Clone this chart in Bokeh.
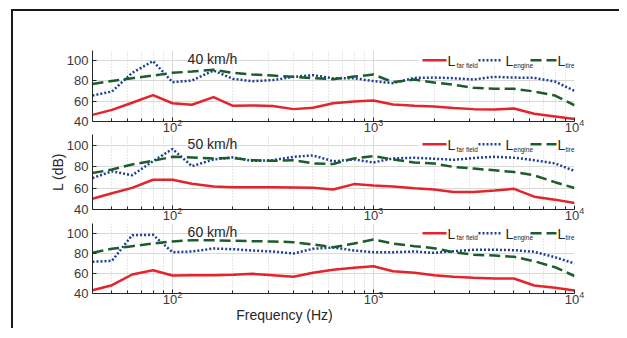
from bokeh.plotting import figure
from bokeh.layouts import column
from bokeh.models import FixedTicker, Label
from bokeh.embed import file_html
from bokeh.resources import INLINE

# ---------------- data (1/3-octave bands) ----------------
freqs = [40, 50, 63, 80, 100, 125, 160, 200, 250, 315, 400, 500, 630, 800,
         1000, 1250, 1600, 2000, 2500, 3150, 4000, 5000, 6300, 8000, 10000]

far40 = [46.5, 51.5, 58.5, 66.0, 58.0, 56.5, 64.0, 55.5, 55.8, 55.3, 52.2, 53.5, 58.0,
         59.7, 60.7, 56.8, 55.5, 54.8, 53.2, 52.2, 51.8, 52.8, 47.6, 45.0, 42.4]
eng40 = [65.6, 69.6, 88.0, 99.5, 78.8, 80.4, 90.3, 82.0, 79.8, 80.8, 84.0, 85.7, 82.5,
         82.7, 79.8, 77.8, 83.0, 83.3, 82.7, 81.4, 84.0, 83.3, 83.0, 79.4, 70.2]
tire40 = [77.0, 80.0, 82.7, 85.3, 88.0, 89.3, 91.0, 88.0, 86.3, 85.3, 84.0, 82.7, 81.7,
          84.3, 86.3, 78.8, 81.4, 78.4, 76.2, 73.2, 72.2, 72.2, 69.6, 65.6, 56.0]

far50 = [50.1, 55.1, 60.2, 67.8, 67.8, 64.0, 61.5, 60.8, 60.8, 60.8, 60.5, 60.2, 58.7,
         63.7, 62.4, 61.5, 59.9, 58.6, 56.4, 56.4, 57.7, 59.3, 52.0, 49.2, 46.0]
eng50 = [69.3, 75.7, 71.9, 85.1, 96.5, 80.4, 86.7, 88.6, 85.4, 86.0, 89.2, 90.5, 85.0,
         86.7, 83.9, 87.7, 88.3, 87.4, 86.4, 88.0, 89.2, 88.3, 86.0, 83.0, 76.0]
tire50 = [74.0, 77.3, 82.0, 85.4, 89.2, 88.6, 87.7, 88.0, 86.0, 85.4, 86.0, 83.0, 82.5,
          87.7, 89.9, 86.7, 83.9, 83.0, 79.7, 78.2, 76.6, 75.0, 71.9, 65.5, 60.0]

far60 = [43.3, 48.3, 59.0, 63.3, 58.0, 58.3, 58.3, 58.7, 59.7, 58.3, 56.7, 60.7, 63.7,
         65.7, 67.3, 62.3, 60.7, 58.3, 56.7, 55.7, 55.0, 55.0, 48.0, 45.7, 43.0]
eng60 = [71.7, 72.7, 98.3, 98.7, 81.3, 82.0, 85.0, 84.3, 83.0, 82.0, 80.0, 84.7, 86.0,
         83.0, 81.3, 81.3, 82.0, 80.7, 82.3, 83.7, 83.7, 83.3, 81.7, 76.3, 70.0]
tire60 = [80.7, 84.7, 87.3, 90.0, 92.0, 93.3, 93.3, 92.7, 92.3, 92.0, 91.3, 89.0, 86.2,
          90.0, 94.0, 90.0, 87.3, 85.3, 81.3, 78.7, 78.0, 76.7, 72.3, 66.3, 57.5]

titles = ["40 km/h", "50 km/h", "60 km/h"]
legend_subs = ["far field", "engine", "tire"]
y_ticks = [40, 60, 80, 100]
x_major = [100, 1000, 10000]
x_label = "Frequency (Hz)"
y_label = "L (dB)"

panels = [(far40, eng40, tire40), (far50, eng50, tire50), (far60, eng60, tire60)]

# ---------------- style ----------------
FONT = "Liberation Sans"
TXT = "#262626"
RED = "#e3242b"
BLUE = "#1c3f94"
GREEN = "#1d5c2c"
GRID = "#d9d9d9"

X0, X1 = 40, 10000
Y0, Y1 = 40, 110
FRAME_W = 482
LEFT = 79
RIGHT = 45
frame_hs = [71, 75, 71]
tops = [39, 0, 0]
bottoms = [13, 14, 12]
title_off = [0.5, 1.0, 0.5]
FRAME_LEFT_PX = 92
PX_PER_DEC = 201.0

minor = [m * 10 ** e for e in (1, 2, 3) for m in range(2, 10) if X0 <= m * 10 ** e <= X1]


def px2f(px):
    return X0 * 10 ** ((px - FRAME_LEFT_PX) / PX_PER_DEC)


def make_panel(i):
    fh = frame_hs[i]
    h = tops[i] + fh + bottoms[i]
    p = figure(width=LEFT + FRAME_W + RIGHT, height=h, x_axis_type="log",
               x_range=(X0, X1), y_range=(Y0, Y1), output_backend="svg",
               toolbar_location=None, min_border_left=LEFT, min_border_right=RIGHT,
               min_border_top=tops[i], min_border_bottom=bottoms[i])
    p.outline_line_color = None
    p.background_fill_color = "white"
    p.border_fill_color = "white"

    def off2v(off):
        return Y1 - off * (Y1 - Y0) / fh

    # axes
    p.xaxis.ticker = FixedTicker(ticks=x_major, minor_ticks=minor)
    p.yaxis.ticker = FixedTicker(ticks=y_ticks)
    for ax in (p.xaxis, p.yaxis):
        ax.axis_line_color = TXT
        ax.major_tick_line_color = TXT
        ax.minor_tick_line_color = TXT
        ax.major_tick_out = 0
        ax.major_tick_in = 4
        ax.minor_tick_out = 0
        ax.minor_tick_in = 3
        ax.major_label_text_font = FONT
        ax.major_label_text_font_size = "13px"
        ax.major_label_text_color = "#3a3a3a"
    p.yaxis.minor_tick_in = 0
    p.xaxis.major_label_standoff = -3
    p.yaxis.major_label_standoff = 4
    if i == 1:
        p.yaxis.axis_label = y_label
        p.yaxis.axis_label_text_font = FONT
        p.yaxis.axis_label_text_font_size = "14px"
        p.yaxis.axis_label_text_font_style = "normal"
        p.yaxis.axis_label_text_color = TXT
        p.yaxis.axis_label_standoff = -2

    # grids
    p.ygrid.grid_line_color = GRID
    p.xgrid.grid_line_color = GRID
    p.xgrid.minor_grid_line_color = "#cfcfcf"
    p.xgrid.minor_grid_line_dash = "1 2"

    # legend background (hides grid)
    p.quad(left=[px2f(418)], right=[px2f(580)], top=[Y1], bottom=[off2v(15)],
           fill_color="white", line_color=None)

    far, eng, tire = panels[i]
    p.line(freqs, far, line_color=RED, line_width=2.5)
    p.line(freqs, eng, line_color=BLUE, line_width=2.5, line_dash="2 2")
    p.line(freqs, tire, line_color=GREEN, line_width=2.5, line_dash="11 5")

    # custom legend: L with subscripts
    ly = off2v(9.8)
    items = [(422, 446, 447, 456, RED, "solid"),
             (478, 501, 505, 513, BLUE, "2 2"),
             (530, 556, 557, 565, GREEN, "11 5")]
    for (a, b, lx, sx, col, dash), sub in zip(items, legend_subs):
        p.line([px2f(a), px2f(b)], [ly, ly], line_color=col, line_width=2.5, line_dash=dash)
        p.add_layout(Label(x=px2f(lx), y=off2v(10.8), text="L", text_font=FONT,
                           text_font_size="14px", text_color=TXT,
                           text_baseline="alphabetic", text_align="left"))
        p.add_layout(Label(x=px2f(sx), y=off2v(14.5), text=sub, text_font=FONT,
                           text_font_size="6.5px", text_color=TXT,
                           text_baseline="alphabetic", text_align="left"))

    # panel title
    p.add_layout(Label(x=px2f(212), y=off2v(title_off[i]), text=titles[i], text_font=FONT,
                       text_font_size="14px", text_color=TXT, text_align="center",
                       text_baseline="top"))
    return p


figs = [make_panel(i) for i in range(3)]

# strip below the last panel that carries the x-axis title
strip = figure(width=LEFT + FRAME_W + RIGHT, height=22, x_axis_type="log",
               x_range=figs[0].x_range, y_range=(0, 1), output_backend="svg",
               toolbar_location=None, min_border_left=LEFT, min_border_right=RIGHT,
               min_border_top=0, min_border_bottom=0,
               x_axis_location=None, y_axis_location=None)
strip.outline_line_color = None
strip.grid.visible = False
strip.add_layout(Label(x=px2f(284), y=1.0, text=x_label, text_font=FONT,
                       text_font_size="14px", text_color=TXT,
                       text_align="center", text_baseline="top"))
figs.append(strip)

layout = column(*figs, spacing=0,
                styles={"border-top": "2px solid #1a1a1a", "border-left": "2px solid #1a1a1a",
                        "margin-left": "11px", "margin-top": "9px"})

open("out.html", "w").write(file_html(layout, INLINE))
